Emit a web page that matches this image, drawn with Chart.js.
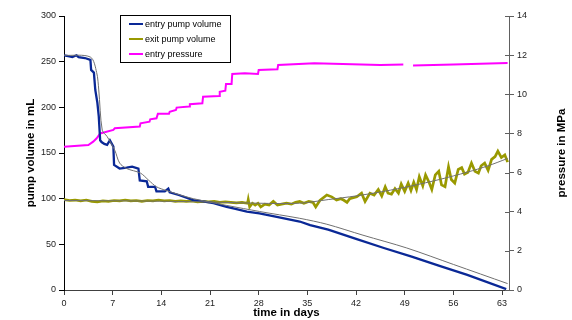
<!DOCTYPE html>
<html>
<head>
<meta charset="utf-8">
<script src="https://cdn.jsdelivr.net/npm/chart.js@4"></script>
<style>
  body { margin: 0; background: #fff; }
  canvas { display: block; }
</style>
</head>
<body>
<canvas id="pumpChart" width="572" height="320"></canvas>
<script>
// tick labels
var dayTicks = [0, 7, 14, 21, 28, 35, 42, 49, 56, 63];
var volumeTicks = [0, 50, 100, 150, 200, 250, 300];
var pressureTicks = [0, 2, 4, 6, 8, 10, 12, 14];

// entry pump volume (mL)
var entryDays = [0, 0.6, 1.2, 1.8, 2.1, 3.0, 3.8, 3.9, 4.3, 4.5, 4.8, 5.0, 5.2, 5.4, 5.8, 6.2, 6.6, 7.1, 7.2, 8.0, 9.0, 9.8, 10.7, 10.9, 11.9, 12.1, 13.1, 13.3, 14.5, 15.0, 15.2, 16.5, 18.6, 20.0, 21.5, 22.5, 23.4, 24.5, 26.3, 28.1, 30.6, 33.9, 35.4, 38.0, 42.0, 46.0, 50.0, 54.0, 58.0, 63.6];
var entryVolume = [257, 256, 255, 257, 255, 254, 252, 241, 238, 219, 205, 190, 164, 162, 160, 159, 164, 157, 137, 133, 134, 135, 133, 120, 119, 113, 113, 108, 108, 111, 107, 104, 98.5, 97, 95, 93, 91, 89, 85.7, 84, 80, 75, 71, 66, 56, 46, 36.5, 26.5, 16.5, 1];

// fitted curve for entry pump volume
var entryTrendDays = [0, 3.8, 4.7, 5.0, 5.5, 6.2, 7.3, 8.0, 9.0, 11.0, 12.2, 13.3, 14.7, 18.6, 28.1, 33.9, 37.8, 43.0, 49.3, 56.0, 63.8];
var entryTrendVolume = [257, 255, 238, 219, 175, 168, 153, 139, 133, 128, 120, 113, 109, 100, 86, 78.5, 72, 60, 46, 28, 7];

// exit pump volume (mL)
var exitDays = [0, 0.8, 1.6, 2.4, 3.2, 4.0, 4.8, 5.6, 6.4, 7.2, 8.0, 8.8, 9.6, 10.4, 11.2, 12.0, 12.8, 13.6, 14.4, 15.2, 16.0, 16.8, 17.6, 18.4, 19.2, 20.0, 20.8, 21.6, 22.4, 23.2, 24.0, 24.8, 25.6, 26.4, 26.5, 26.7, 27.1, 27.5, 27.9, 28.3, 28.9, 29.5, 30.1, 30.7, 31.3, 32.0, 32.7, 33.3, 33.9, 34.5, 35.2, 35.8, 36.2, 36.8, 37.8, 38.5, 39.2, 39.8, 40.2, 40.7, 41.1, 42.1, 42.8, 43.3, 44.0, 44.6, 45.2, 45.7, 46.2, 46.6, 47.1, 47.6, 48.1, 48.5, 49.0, 49.5, 49.9, 50.3, 50.7, 51.1, 51.6, 52.0, 52.5, 52.9, 53.4, 53.9, 54.3, 54.8, 55.3, 55.7, 56.2, 56.7, 57.2, 57.6, 58.1, 58.6, 59.1, 59.6, 60.0, 60.5, 61.0, 61.5, 62.0, 62.4, 62.9, 63.4, 63.8];
var exitVolume = [99, 98, 98.5, 97.5, 98.5, 97, 96.5, 97.5, 97, 98, 97.5, 98.5, 97.5, 98, 97, 98, 97.5, 98.5, 97.5, 98, 97, 97.5, 97, 97.5, 96.5, 97, 96.5, 97, 96, 96.5, 96, 95.5, 96, 95, 99, 91, 95, 93, 95, 91, 94, 93, 97, 93, 94, 95, 94, 96, 97, 95, 97, 96, 91, 98, 104, 102, 98.5, 100, 98.5, 96, 100, 102, 106, 97, 106, 104, 110, 103, 113, 106, 105, 111, 106, 116, 108, 117, 109, 118, 110, 124, 114, 126, 118, 110, 126, 130, 115, 113, 135, 121, 117, 132, 134, 127, 129, 139, 130, 128, 136, 139, 131, 143, 146, 152, 145, 148, 140];

// fitted curve for exit pump volume
var exitTrendDays = [0, 10, 20, 28, 33.9, 38, 42, 46, 50, 54, 58, 61, 63.8];
var exitTrendVolume = [98, 97.5, 96.5, 95, 95, 99, 103, 108, 114, 121, 129, 136, 144];

// entry pressure (MPa), null = gap in the record
var pressureDays = [0, 1.5, 3.5, 4.2, 4.7, 5.2, 7.1, 7.3, 10.9, 11.0, 12.3, 12.4, 13.3, 13.5, 15.1, 15.2, 16.1, 16.2, 18.0, 18.1, 19.9, 20.0, 22.3, 22.4, 23.2, 23.3, 24.1, 24.2, 26.0, 27.9, 28.0, 30.7, 30.8, 36.0, 45.5, 48.8, 48.9, 50.2, 56.0, 63.8];
var pressureValues = [7.32, 7.36, 7.41, 7.58, 7.75, 8.0, 8.18, 8.26, 8.35, 8.52, 8.6, 8.72, 8.77, 9.0, 9.0, 9.11, 9.2, 9.32, 9.37, 9.49, 9.54, 9.88, 9.91, 10.13, 10.18, 10.53, 10.53, 11.04, 11.08, 11.04, 11.24, 11.28, 11.5, 11.58, 11.5, 11.52, null, 11.47, 11.52, 11.6];

function points(xs, ys) {
    return xs.map(function (x, i) {
        return { x: x, y: ys[i] };
    });
}

var FONT = '"Liberation Sans", Arial, sans-serif';

var extras = {
    id: 'extras',
    afterDraw: function (chart) {
        var c = chart.ctx;
        var a = chart.chartArea;
        var y1 = chart.scales.y1;

        c.save();
        // inner half of the right axis tick marks
        c.strokeStyle = '#606060';
        c.lineWidth = 1;
        y1.ticks.forEach(function (t) {
            var py = Math.round(y1.getPixelForValue(t.value)) + 0.5;
            c.beginPath();
            c.moveTo(a.right - 4, py);
            c.lineTo(a.right, py);
            c.stroke();
        });

        // right axis title, reading upwards
        c.translate(562, (a.top + a.bottom) / 2);
        c.rotate(-Math.PI / 2);
        c.font = 'bold 11.5px ' + FONT;
        c.fillStyle = '#000';
        c.textAlign = 'center';
        c.textBaseline = 'middle';
        c.fillText('pressure in MPa', 0, 0);
        c.restore();

        // legend box
        var lx = a.left + 56, ly = a.top - 1, lw = 110, lh = 47;
        c.save();
        c.fillStyle = '#fff';
        c.fillRect(lx, ly, lw, lh);
        c.strokeStyle = '#000';
        c.lineWidth = 1;
        c.strokeRect(lx + 0.5, ly + 0.5, lw, lh);
        c.font = '9px ' + FONT;
        c.textBaseline = 'middle';
        c.textAlign = 'left';
        [0, 1, 2].forEach(function (i) {
            var ds = chart.data.datasets[i];
            var yy = ly + 9 + i * 15;
            c.strokeStyle = ds.borderColor;
            c.lineWidth = 2;
            c.beginPath();
            c.moveTo(lx + 9, yy);
            c.lineTo(lx + 23, yy);
            c.stroke();
            c.fillStyle = '#000';
            c.fillText(ds.label, lx + 25, yy + 0.5);
        });
        c.restore();
    }
};

new Chart(document.getElementById('pumpChart'), {
    type: 'line',
    data: {
        datasets: [
            {
                label: 'entry pump volume',
                data: points(entryDays, entryVolume),
                borderColor: '#0a2896',
                borderWidth: 2.3,
                pointRadius: 0,
                yAxisID: 'y',
                order: 3
            },
            {
                label: 'exit pump volume',
                data: points(exitDays, exitVolume),
                borderColor: '#999900',
                borderWidth: 2.7,
                pointRadius: 0,
                yAxisID: 'y',
                order: 4
            },
            {
                label: 'entry pressure',
                data: points(pressureDays, pressureValues),
                borderColor: '#ff00ff',
                borderWidth: 2,
                pointRadius: 0,
                spanGaps: false,
                yAxisID: 'y1',
                order: 5
            },
            {
                label: 'entry fit',
                data: points(entryTrendDays, entryTrendVolume),
                borderColor: '#707070',
                borderWidth: 1,
                pointRadius: 0,
                tension: 0.3,
                yAxisID: 'y',
                order: 1
            },
            {
                label: 'exit fit',
                data: points(exitTrendDays, exitTrendVolume),
                borderColor: '#707070',
                borderWidth: 1,
                pointRadius: 0,
                tension: 0.3,
                yAxisID: 'y',
                order: 2
            }
        ]
    },
    options: {
        responsive: false,
        animation: false,
        layout: { padding: { top: 16, right: 0, bottom: 0, left: 0 } },
        plugins: {
            legend: { display: false },
            tooltip: { enabled: false }
        },
        scales: {
            x: {
                type: 'linear',
                min: 0,
                max: 64,
                afterBuildTicks: function (scale) {
                    scale.ticks = dayTicks.map(function (v) { return { value: v }; });
                },
                afterFit: function (scale) { scale.height = 30; },
                grid: { drawOnChartArea: false, tickLength: 5, color: '#404040' },
                border: { color: '#404040' },
                ticks: { color: '#222', font: { size: 9, family: FONT }, padding: 3, maxRotation: 0 },
                title: { display: true, text: 'time in days', color: '#000', font: { size: 11.5, weight: 'bold', family: FONT }, padding: { top: 0, bottom: 0 } }
            },
            y: {
                position: 'left',
                min: 0,
                max: 300,
                afterBuildTicks: function (scale) {
                    scale.ticks = volumeTicks.map(function (v) { return { value: v }; });
                },
                afterFit: function (scale) { scale.width = 64; },
                grid: { drawOnChartArea: false, tickLength: 5, color: '#000' },
                border: { color: '#000' },
                ticks: { color: '#222', font: { size: 9, family: FONT }, padding: 3 },
                title: { display: true, text: 'pump volume in mL', color: '#000', font: { size: 11.5, weight: 'bold', family: FONT }, padding: { top: 24, bottom: 0 } }
            },
            y1: {
                position: 'right',
                min: 0,
                max: 14,
                afterBuildTicks: function (scale) {
                    scale.ticks = pressureTicks.map(function (v) { return { value: v }; });
                },
                afterFit: function (scale) { scale.width = 63; },
                grid: { drawOnChartArea: false, tickLength: 5, color: '#606060' },
                border: { color: '#606060' },
                ticks: { color: '#222', font: { size: 9, family: FONT }, padding: 3 },
                title: { display: false }
            }
        }
    },
    plugins: [extras]
});
</script>
</body>
</html>
